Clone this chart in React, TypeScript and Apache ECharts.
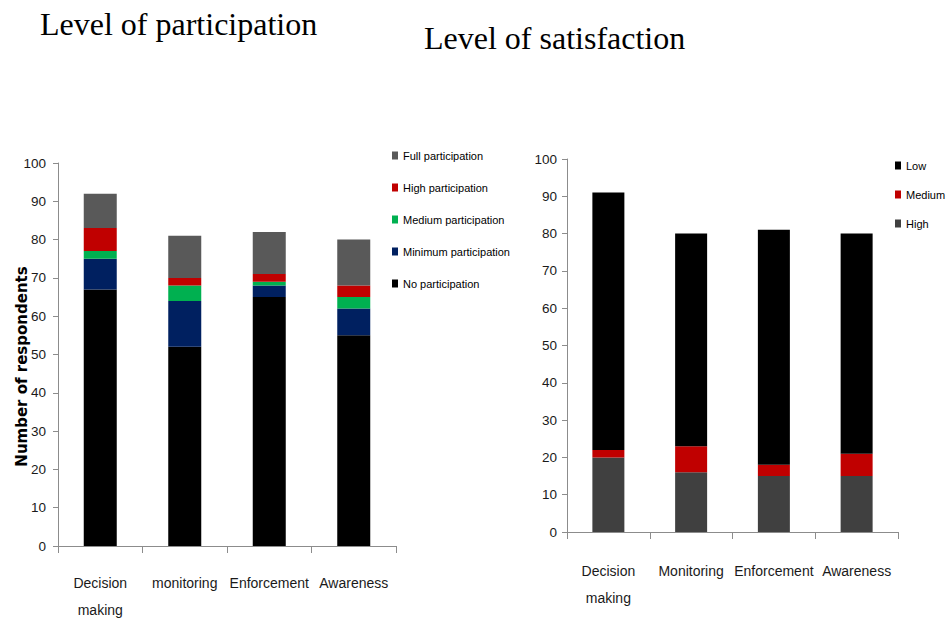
import React, { useEffect, useRef } from "react";
import * as echarts from "echarts";

// Participation chart
const participationCategories = ["Decision\nmaking", "monitoring", "Enforcement", "Awareness"];
const noParticipation = [67, 52, 65, 55];
const minimumParticipation = [8, 12, 3, 7];
const mediumParticipation = [2, 4, 1, 3];
const highParticipation = [6, 2, 2, 3];
const fullParticipation = [9, 11, 11, 12];

// Satisfaction chart
const satisfactionCategories = ["Decision\nmaking", "Monitoring", "Enforcement", "Awareness"];
const highSatisfaction = [20, 16, 15, 15];
const mediumSatisfaction = [2, 7, 3, 6];
const lowSatisfaction = [69, 57, 63, 59];

const SANS = "'Liberation Sans', Arial, sans-serif";
const SERIF = "'Liberation Serif', 'Times New Roman', serif";
const AXIS_GREY = "#8c8c8c";

function valueAxis(gridIndex: number, margin: number, extra: any = {}) {
  return {
    type: "value",
    gridIndex,
    min: 0,
    max: 100,
    interval: 10,
    splitLine: { show: false },
    axisLine: { show: true, lineStyle: { color: AXIS_GREY, width: 1 } },
    axisTick: { show: true, length: 5, lineStyle: { color: AXIS_GREY } },
    axisLabel: { fontFamily: SANS, fontSize: 13.5, color: "#1a1a1a", margin },
    ...extra,
  };
}

function categoryAxis(gridIndex: number, data: string[], margin: number) {
  return {
    type: "category",
    gridIndex,
    data,
    axisLine: { show: true, lineStyle: { color: AXIS_GREY, width: 1 } },
    axisTick: { show: true, length: 7, lineStyle: { color: AXIS_GREY } },
    axisLabel: {
      fontFamily: SANS,
      fontSize: 14,
      color: "#1a1a1a",
      lineHeight: 27,
      margin,
      interval: 0,
    },
  };
}

export default function App() {
  const ref = useRef<HTMLDivElement>(null);

  useEffect(() => {
    if (!ref.current) return;
    const chart = echarts.init(ref.current, null, { renderer: "svg" });

    const barLeft = (name: string, data: number[], color: string) => ({
      name,
      type: "bar",
      stack: "participation",
      xAxisIndex: 0,
      yAxisIndex: 0,
      barWidth: 33,
      data,
      itemStyle: { color },
    });
    const barRight = (name: string, data: number[], color: string) => ({
      name,
      type: "bar",
      stack: "satisfaction",
      xAxisIndex: 1,
      yAxisIndex: 1,
      barWidth: 32,
      data,
      itemStyle: { color },
    });

    const legendText = { fontFamily: SANS, fontSize: 11, color: "#000" };

    chart.setOption({
      animation: false,
      backgroundColor: "#ffffff",
      graphic: [
        {
          type: "text",
          left: 40,
          top: 8,
          style: { text: "Level of participation", font: `32px ${SERIF}`, fill: "#000" },
        },
        {
          type: "text",
          left: 424,
          top: 22,
          style: { text: "Level of satisfaction", font: `32px ${SERIF}`, fill: "#000" },
        },
      ],
      legend: [
        {
          orient: "vertical",
          left: 392,
          top: 150,
          padding: 0,
          itemWidth: 6,
          itemHeight: 8,
          itemGap: 21,
          icon: "rect",
          textStyle: legendText,
          data: [
            "Full participation",
            "High participation",
            "Medium participation",
            "Minimum participation",
            "No participation",
          ],
        },
        {
          orient: "vertical",
          left: 895,
          top: 160,
          padding: 0,
          itemWidth: 6,
          itemHeight: 8,
          itemGap: 18,
          icon: "rect",
          textStyle: legendText,
          data: ["Low", "Medium", "High"],
        },
      ],
      grid: [
        { left: 58, top: 163, width: 338, height: 383, outerBoundsMode: "none" },
        { left: 567, top: 159, width: 331, height: 373, outerBoundsMode: "none" },
      ],
      xAxis: [
        categoryAxis(0, participationCategories, 23),
        categoryAxis(1, satisfactionCategories, 25),
      ],
      yAxis: [
        valueAxis(0, 12, {
          name: "Number of respondents",
          nameLocation: "middle",
          nameGap: 29,
          nameMoveOverlap: false,
          nameTextStyle: {
            fontFamily: "'DejaVu Sans', sans-serif",
            fontWeight: "bold",
            fontSize: 15,
            color: "#000",
            padding: [0, 24, 0, 0],
          },
        }),
        valueAxis(1, 10),
      ],
      series: [
        barLeft("No participation", noParticipation, "#000000"),
        barLeft("Minimum participation", minimumParticipation, "#002060"),
        barLeft("Medium participation", mediumParticipation, "#00B050"),
        barLeft("High participation", highParticipation, "#C00000"),
        barLeft("Full participation", fullParticipation, "#595959"),
        barRight("High", highSatisfaction, "#404040"),
        barRight("Medium", mediumSatisfaction, "#C00000"),
        barRight("Low", lowSatisfaction, "#000000"),
      ],
    });

    return () => chart.dispose();
  }, []);

  return (
    <div
      ref={ref}
      style={{ position: "absolute", left: 0, top: 0, width: 947, height: 620 }}
    />
  );
}
